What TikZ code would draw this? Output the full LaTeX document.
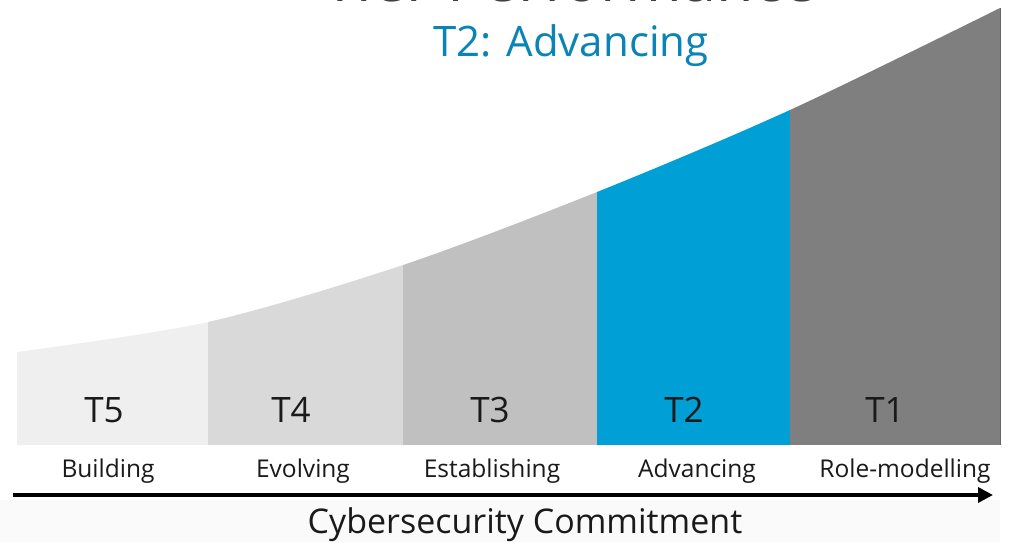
\documentclass[tikz,border=0pt]{standalone}
\usepackage{fontspec}
\setmainfont{Open Sans}
\usetikzlibrary{arrows.meta}
\definecolor{tfive}{HTML}{EFEFEF}
\definecolor{tfour}{HTML}{D9D9D9}
\definecolor{tthree}{HTML}{C0C0C0}
\definecolor{ttwo}{HTML}{009FD6}
\definecolor{tone}{HTML}{7F7F7F}
\definecolor{headblue}{HTML}{0A84B6}
\definecolor{txt}{HTML}{1A1A1A}
\tikzset{
  tierlabel/.style={font=\fontsize{35}{35}\selectfont, text=txt, anchor=center, inner sep=0pt},
  tiername/.style={font=\fontsize{24.5}{24.5}\selectfont, text=txt, anchor=base, inner sep=0pt},
  axislabel/.style={font=\fontsize{34}{34}\selectfont, text=txt, anchor=base, inner sep=0pt},
}
\begin{document}
\begin{tikzpicture}[x=1pt,y=-1pt]
  \useasboundingbox (0,0) rectangle (1013,542);
  \fill[white] (0,0) rectangle (1013,542);
  % faint band under the axis
  \fill[black!2] (0,500) rectangle (1000,542);

  % heading, partly cut by the top edge
  \begin{scope}
    \clip (0,0) rectangle (1013,542);
    \node[font=\fontsize{61}{61}\selectfont, text=black!75, anchor=base, inner sep=0pt] (title) at (570,1) {Tier Performance};
  \end{scope}
  \node[font=\fontsize{42}{42}\selectfont, text=headblue, anchor=base, inner sep=0pt] (sub) at (571,56) {T2: Advancing};

  % rising area, split into five tiers
  \begin{scope}
    \clip (17,445) -- plot[smooth, tension=0.5] coordinates
      {(17,352) (208,322) (403,265) (597,192) (790,110) (1000,8)} -- (1000,445) -- cycle;
    \fill[tfive]  (17,0)  rectangle (208,445);
    \fill[tfour]  (208,0) rectangle (403,445);
    \fill[tthree] (403,0) rectangle (597,445);
    \fill[ttwo]   (597,0) rectangle (790,445);
    \fill[tone]   (790,0) rectangle (1000,445);
  \end{scope}
  \draw[black!60, line width=1pt] (1000,8) -- (1000,445);

  \node[tierlabel] (t5) at (104,410) {T5};
  \node[tierlabel] (t4) at (291,410) {T4};
  \node[tierlabel] (t3) at (490,410) {T3};
  \node[tierlabel] (t2) at (684,410) {T2};
  \node[tierlabel] (t1) at (885,410) {T1};

  \node[tiername] (n5) at (108,477) {Building};
  \node[tiername] (n4) at (303,477) {Evolving};
  \node[tiername] (n3) at (492,477) {Establishing};
  \node[tiername] (n2) at (697,477) {Advancing};
  \node[tiername] (n1) at (905,477) {Role-modelling};

  % commitment axis
  \coordinate (axisL) at (13,495);
  \coordinate (axisR) at (993,495);
  \draw[line width=3.5pt, -{Triangle[length=15pt, width=15pt]}] (axisL) -- (axisR);
  \node[axislabel] (axis) at (525,533) {Cybersecurity Commitment};
\end{tikzpicture}
\end{document}
